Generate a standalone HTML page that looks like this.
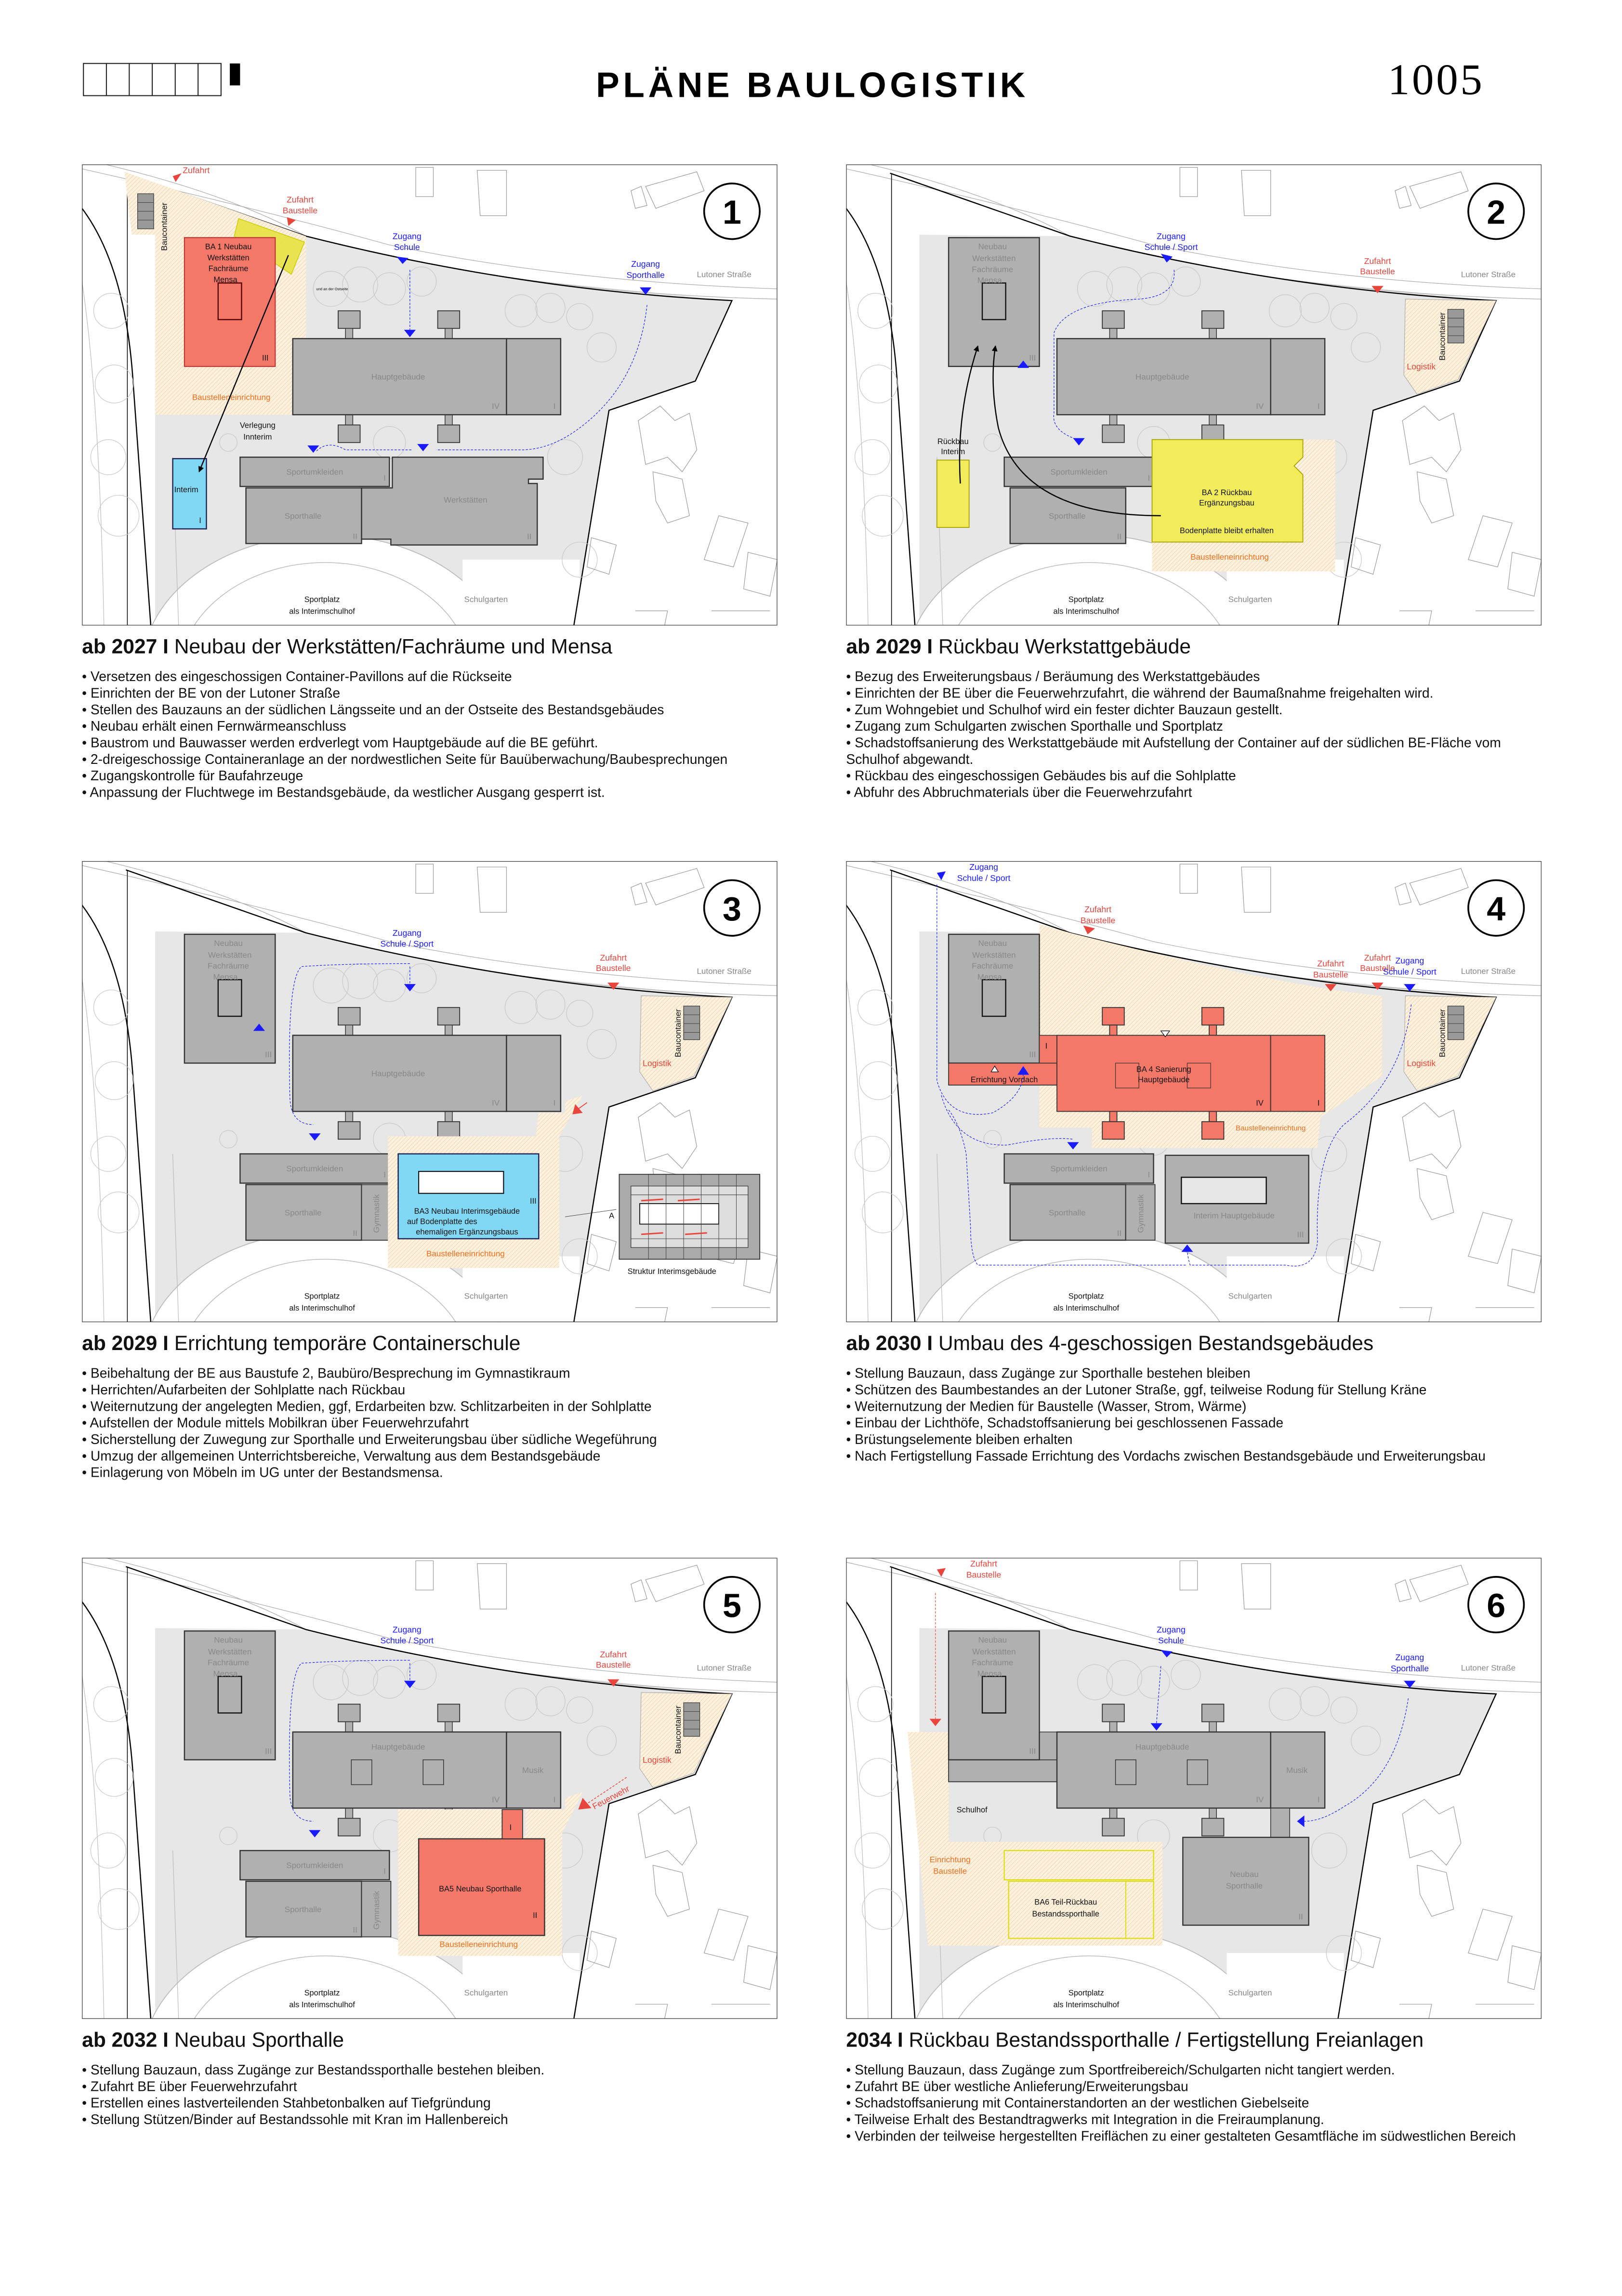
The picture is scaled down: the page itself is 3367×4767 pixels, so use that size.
<!DOCTYPE html>
<html><head><meta charset="utf-8"><style>
html,body{margin:0;padding:0;background:#fff}
svg{display:block}
text{font-family:"Liberation Sans",sans-serif}
.t{font-size:5.6px;fill:#888}
.k{font-size:5.4px;fill:#111}
.b{font-size:5.8px;fill:#1a1aff}
.r{font-size:5.8px;fill:#e8453c}
.o{font-size:5.6px;fill:#f07020}
.bl{font-size:9.3px;fill:#111}
.cap{font-size:14px;fill:#111}
</style></head><body>
<svg width="3367" height="4767" viewBox="0 0 1108 1568" xmlns="http://www.w3.org/2000/svg">
<defs>
<pattern id="h" width="2" height="2" patternUnits="userSpaceOnUse" patternTransform="rotate(45)">
<rect width="2" height="2" fill="#fbf1de"/><line x1="0" y1="0" x2="0" y2="2" stroke="#ebc48a" stroke-width="0.4"/>
</pattern>
<clipPath id="pc"><rect x="0" y="0" width="475" height="315"/></clipPath>
<g id="base">
<rect x="0" y="0" width="475" height="315" fill="#fff"/>
<path d="M50,48 L153,49 Q230,70 306,79 L444,93 L419,148 L360,168 L336,315 L50,315 Z" fill="#e7e7e7"/>
<ellipse cx="166" cy="345" rx="125" ry="92" fill="#fff" stroke="#bbb" stroke-width="0.6"/>
<ellipse cx="166" cy="350" rx="100" ry="78" fill="#fff" stroke="#bbb" stroke-width="0.5"/>
<rect x="260" y="270" width="80" height="45" fill="#fff"/>
<path d="M16,0 Q100,20 153,49 Q300,88 475,92" fill="none" stroke="#aaa" stroke-width="0.4"/>
<path d="M0,3 Q120,30 210,55 Q330,80 475,85" fill="none" stroke="#aaa" stroke-width="0.4"/>
<path d="M30,6 L153,49 Q300,86 444,93 L419,148 L360,168 L336,315" fill="none" stroke="#000" stroke-width="0.8"/>
<path d="M0,30 Q30,70 35,150 L47,315" fill="none" stroke="#000" stroke-width="0.8"/>
<path d="M31,6 L31,315" fill="none" stroke="#000" stroke-width="0.5"/>
<path d="M0,80 Q12,160 15,315 M62,200 L66,315" fill="none" stroke="#bbb" stroke-width="0.4"/>
<g fill="none" stroke="#c8c8c8" stroke-width="0.4">
<circle cx="170" cy="85" r="12"/><circle cx="190" cy="82" r="12"/><circle cx="210" cy="85" r="11"/><circle cx="232" cy="80" r="10"/>
<circle cx="300" cy="100" r="11"/><circle cx="320" cy="98" r="10"/><circle cx="340" cy="104" r="9"/><circle cx="355" cy="125" r="10"/>
<circle cx="20" cy="100" r="12"/><circle cx="22" cy="150" r="13"/><circle cx="18" cy="200" r="12"/><circle cx="25" cy="240" r="14"/>
<circle cx="210" cy="190" r="11"/><circle cx="330" cy="200" r="12"/><circle cx="340" cy="270" r="12"/><circle cx="100" cy="190" r="6"/>
</g>
<g fill="none" stroke="#999" stroke-width="0.4">
<path d="M228,2 L240,2 L240,22 L228,22 Z M270,4 L290,4 L290,35 L272,35 Z M385,15 L420,5 L425,18 L392,30 Z M375,18 L382,15 L386,28 L378,30 Z"/>
<path d="M380,175 L395,165 L405,175 L415,170 L420,195 L410,210 L400,200 L385,205 Z M390,210 L410,215 L415,240 L400,245 L392,230 Z"/>
<path d="M435,240 L455,245 L445,275 L425,270 Z M455,265 L475,270 L470,295 L452,290 Z M348,255 L365,260 L360,280 L345,275 Z"/>
<path d="M378,305 L400,305 L398,315 M430,305 L470,305"/>
</g>
</g>
<g id="hg">
<rect x="175" y="100" width="15" height="12" fill="#b0b0b0" stroke="#333" stroke-width="0.6"/><rect x="180" y="112" width="5" height="7" fill="#b0b0b0" stroke="#333" stroke-width="0.5"/>
<rect x="243" y="100" width="15" height="12" fill="#b0b0b0" stroke="#333" stroke-width="0.6"/><rect x="248" y="112" width="5" height="7" fill="#b0b0b0" stroke="#333" stroke-width="0.5"/>
<rect x="180" y="171" width="5" height="7" fill="#b0b0b0" stroke="#333" stroke-width="0.5"/><rect x="175" y="178" width="15" height="12" fill="#b0b0b0" stroke="#333" stroke-width="0.6"/>
<rect x="248" y="171" width="5" height="7" fill="#b0b0b0" stroke="#333" stroke-width="0.5"/><rect x="243" y="178" width="15" height="12" fill="#b0b0b0" stroke="#333" stroke-width="0.6"/>
<rect x="144" y="119" width="146" height="52" fill="#b0b0b0" stroke="#333" stroke-width="0.8"/>
<rect x="290" y="119" width="37" height="52" fill="#b0b0b0" stroke="#333" stroke-width="0.8"/>
<text x="280" y="167" class="t">IV</text><text x="322" y="167" class="t">I</text>
</g>
<g id="nb">
<rect x="70" y="50" width="62" height="88" fill="#b0b0b0" stroke="#333" stroke-width="0.8"/>
<rect x="93" y="81" width="16" height="25" fill="none" stroke="#111" stroke-width="0.8"/>
<text x="100" y="58" class="t" text-anchor="middle">Neubau</text><text x="101" y="66" class="t" text-anchor="middle">Werkstätten</text>
<text x="100" y="73.5" class="t" text-anchor="middle">Fachräume</text><text x="98" y="81" class="t" text-anchor="middle">Mensa</text>
<text x="125" y="134" class="t">III</text>
</g>
<g id="sp">
<rect x="108" y="200" width="102" height="20" fill="#b0b0b0" stroke="#333" stroke-width="0.8"/>
<rect x="112" y="221" width="79" height="38" fill="#b0b0b0" stroke="#333" stroke-width="0.8"/>
<text x="159" y="212" class="t" text-anchor="middle">Sportumkleiden</text><text x="151" y="242" class="t" text-anchor="middle">Sporthalle</text>
<text x="206" y="216" class="t">I</text><text x="185" y="256" class="t">II</text>
</g>
<g id="gym">
<rect x="191" y="221" width="20" height="38" fill="#b0b0b0" stroke="#333" stroke-width="0.6"/>
<text transform="translate(203,254) rotate(-90)" class="t">Gymnastik</text>
</g>
<g id="com">
<text x="420" y="77" class="t">Lutoner Straße</text>
<text x="164" y="299" class="k" text-anchor="middle">Sportplatz</text><text x="164" y="307" class="k" text-anchor="middle">als Interimschulhof</text>
<text x="276" y="299" class="t" text-anchor="middle">Schulgarten</text>
<rect x="0" y="0" width="475" height="315" fill="none" stroke="#333" stroke-width="0.8"/>
</g>
<g id="ber">
<path d="M382,92 L444,93 L418,147 L390,157 L381,144 Z" fill="url(#h)" stroke="#999" stroke-width="0.3"/>
<rect x="411" y="99" width="11" height="23" fill="#999" stroke="#333" stroke-width="0.4"/>
<line x1="411" y1="105" x2="422" y2="105" stroke="#333" stroke-width="0.3"/><line x1="411" y1="111" x2="422" y2="111" stroke="#333" stroke-width="0.3"/><line x1="411" y1="117" x2="422" y2="117" stroke="#333" stroke-width="0.3"/>
<text transform="translate(409,134) rotate(-90)" style="font-size:5.6px;fill:#111">Baucontainer</text>
<text x="383" y="140" class="r">Logistik</text>
<text x="363" y="75" class="r" text-anchor="middle">Baustelle</text><text x="363" y="68" class="r" text-anchor="middle">Zufahrt</text>
<path d="M359,83 L367,83 L363,88 Z" fill="#e8453c"/>
</g>
<marker id="ar" viewBox="0 0 10 10" refX="9" refY="5" markerWidth="5" markerHeight="5" orient="auto"><path d="M0,0 L10,5 L0,10 Z" fill="#000"/></marker>
</defs>

<!-- header -->
<g stroke="#222" stroke-width="0.7" fill="#fff">
<rect x="57" y="43" width="94" height="22"/>
<line x1="72.7" y1="43" x2="72.7" y2="65"/><line x1="88.3" y1="43" x2="88.3" y2="65"/><line x1="104" y1="43" x2="104" y2="65"/><line x1="119.7" y1="43" x2="119.7" y2="65"/><line x1="135.3" y1="43" x2="135.3" y2="65"/>
</g>
<rect x="157" y="43" width="7" height="15" fill="#000"/>
<text x="555" y="66" text-anchor="middle" style="font-size:24px;font-weight:bold;letter-spacing:2.5px;fill:#000">PLÄNE BAULOGISTIK</text>
<text x="981" y="64" text-anchor="middle" style="font-family:'Liberation Serif',serif;font-size:30px;fill:#000;letter-spacing:1.5px">1005</text>

<!-- PANEL 1 -->
<g transform="translate(56,112)"><g clip-path="url(#pc)">
<use href="#base"/>
<path d="M29,5 L153,49 L153,119 L144,119 L144,171 L50,171 L50,48 L34,48 Z" fill="url(#h)"/>
<use href="#hg"/>
<text x="216" y="147" class="t" text-anchor="middle">Hauptgebäude</text>
<use href="#sp"/>
<path d="M212,200 L315,200 L315,215 L305,215 L305,218 L311,218 L311,260 L211,260 L211,256 L191,256 L191,221 L212,221 Z" fill="#b0b0b0" stroke="#333" stroke-width="0.8"/>
<text x="262" y="231" class="t" text-anchor="middle">Werkstätten</text><text x="304" y="256" class="t">II</text>
<rect x="38" y="20" width="11" height="24" fill="#999" stroke="#333" stroke-width="0.4"/>
<line x1="38" y1="26" x2="49" y2="26" stroke="#333" stroke-width="0.3"/><line x1="38" y1="32" x2="49" y2="32" stroke="#333" stroke-width="0.3"/><line x1="38" y1="38" x2="49" y2="38" stroke="#333" stroke-width="0.3"/>
<text transform="translate(58,59) rotate(-90)" style="font-size:5.6px;fill:#111">Baucontainer</text>
<path d="M107,37 L152,53 L143,75 L104,49 Z" fill="#e6e23a" fill-opacity="0.85" stroke="#cccc00" stroke-width="0.5"/>
<rect x="70" y="50" width="62" height="88" fill="#f47868" stroke="#b33" stroke-width="0.7"/>
<rect x="93" y="81" width="16" height="25" fill="none" stroke="#500" stroke-width="0.8"/>
<text x="100" y="58" class="k" text-anchor="middle">BA 1 Neubau</text><text x="100" y="65.5" class="k" text-anchor="middle">Werkstätten</text>
<text x="100" y="73" class="k" text-anchor="middle">Fachräume</text><text x="98" y="80.5" class="k" text-anchor="middle">Mensa</text>
<text x="123" y="134" class="k">III</text>
<text x="102" y="161" class="o" text-anchor="middle">Baustelleneinrichtung</text>
<rect x="62" y="201" width="23" height="48" fill="#80d8f4" stroke="#225" stroke-width="0.8"/>
<text x="63" y="224" class="k">Interim</text><text x="80" y="245" class="k">I</text>
<path d="M141,62 L80,210" stroke="#000" stroke-width="0.8" marker-end="url(#ar)"/>
<text x="120" y="180" class="k" text-anchor="middle">Verlegung</text><text x="120" y="188" class="k" text-anchor="middle">Innterim</text>
<text x="160" y="86" style="font-size:2.5px;fill:#000">und an der Ostseite</text>
<text x="78" y="6" class="r" text-anchor="middle">Zufahrt</text><path d="M62,8 L68,6 L64,12 Z" fill="#e8453c"/>
<text x="149" y="26" class="r" text-anchor="middle">Zufahrt</text><text x="149" y="33.5" class="r" text-anchor="middle">Baustelle</text><path d="M140,36 L146,38 L141,42 Z" fill="#e8453c"/>
<text x="222" y="51" class="b" text-anchor="middle">Zugang</text><text x="222" y="58.5" class="b" text-anchor="middle">Schule</text><path d="M215,63 L223,64 L219,68 Z" fill="#1a1aff"/>
<text x="385" y="70" class="b" text-anchor="middle">Zugang</text><text x="385" y="77.5" class="b" text-anchor="middle">Sporthalle</text><path d="M381,84 L389,84 L385,89 Z" fill="#1a1aff"/>
<path d="M224,72 L224,113" stroke="#1a1aff" stroke-width="0.4" stroke-dasharray="1.5,1" fill="none"/><path d="M220,113 L228,113 L224,118 Z" fill="#1a1aff"/>
<path d="M386,96 Q380,150 340,180 Q320,195 300,195 L242,195 M225,195 L180,195 Q168,188 160,196" stroke="#1a1aff" stroke-width="0.4" stroke-dasharray="1.5,1" fill="none"/>
<path d="M154,192 L162,192 L158,197 Z" fill="#1a1aff"/><path d="M229,191 L237,191 L233,196 Z" fill="#1a1aff"/>
<use href="#com"/>
</g>
<circle cx="444" cy="32" r="19" fill="#fff" stroke="#000" stroke-width="1.2"/><text x="444" y="40.5" text-anchor="middle" style="font-size:23px;font-weight:bold">1</text>
</g>
<text x="56" y="446" class="cap"><tspan font-weight="bold">ab 2027  I</tspan>  Neubau der Werkstätten/Fachräume und Mensa</text>
<text x="56" y="465" class="bl">• Versetzen des eingeschossigen Container-Pavillons auf die Rückseite</text>
<text x="56" y="476.3" class="bl">• Einrichten der BE von der Lutoner Straße</text>
<text x="56" y="487.6" class="bl">• Stellen des Bauzauns an der südlichen Längsseite und an der Ostseite des Bestandsgebäudes</text>
<text x="56" y="498.9" class="bl">• Neubau erhält einen Fernwärmeanschluss</text>
<text x="56" y="510.2" class="bl">• Baustrom und Bauwasser werden erdverlegt vom Hauptgebäude auf die BE geführt.</text>
<text x="56" y="521.5" class="bl">• 2-dreigeschossige Containeranlage an der nordwestlichen Seite für Bauüberwachung/Baubesprechungen</text>
<text x="56" y="532.8" class="bl">• Zugangskontrolle für Baufahrzeuge</text>
<text x="56" y="544.1" class="bl">• Anpassung der Fluchtwege im Bestandsgebäude, da westlicher Ausgang gesperrt ist.</text>

<!-- PANEL 2 -->
<g transform="translate(578,112)"><g clip-path="url(#pc)">
<use href="#base"/>
<use href="#ber"/>
<use href="#hg"/>
<text x="216" y="147" class="t" text-anchor="middle">Hauptgebäude</text>
<use href="#nb"/>
<use href="#sp"/>
<path d="M209,188 L334,188 L334,278 L209,278 Z" fill="url(#h)"/>
<path d="M209,188 L312,188 L312,200 L306,206 L312,212 L312,258 L209,258 Z" fill="#f2ec5a" stroke="#aaa200" stroke-width="0.6"/>
<text x="260" y="226" class="k" text-anchor="middle">BA 2 Rückbau</text><text x="260" y="233" class="k" text-anchor="middle">Ergänzungsbau</text>
<text x="260" y="252" class="k" text-anchor="middle">Bodenplatte bleibt erhalten</text>
<text x="262" y="270" class="o" text-anchor="middle">Baustelleneinrichtung</text>
<rect x="62" y="202" width="22" height="46" fill="#f2ec5a" stroke="#aaa200" stroke-width="0.6"/>
<text x="73" y="191" class="k" text-anchor="middle">Rückbau</text><text x="73" y="198" class="k" text-anchor="middle">Interim</text>
<path d="M78,218 Q75,170 90,124" stroke="#000" stroke-width="0.8" fill="none" marker-end="url(#ar)"/>
<path d="M215,240 Q120,240 104,180 Q98,150 102,124" stroke="#000" stroke-width="0.8" fill="none" marker-end="url(#ar)"/>
<text x="222" y="51" class="b" text-anchor="middle">Zugang</text><text x="222" y="58.5" class="b" text-anchor="middle">Schule / Sport</text><path d="M215,61 L223,63 L219,67 Z" fill="#1a1aff"/>
<path d="M224,72 Q226,90 200,92 Q150,94 142,115 L142,170 Q140,182 158,188" stroke="#1a1aff" stroke-width="0.4" stroke-dasharray="1.5,1" fill="none"/>
<path d="M117,139 L125,139 L121,134 Z" fill="#1a1aff"/><path d="M155,187 L163,187 L159,192 Z" fill="#1a1aff"/>
<use href="#com"/>
</g>
<circle cx="444" cy="32" r="19" fill="#fff" stroke="#000" stroke-width="1.2"/><text x="444" y="40.5" text-anchor="middle" style="font-size:23px;font-weight:bold">2</text>
</g>
<text x="578" y="446" class="cap"><tspan font-weight="bold">ab 2029  I</tspan>  Rückbau Werkstattgebäude</text>
<text x="578" y="465" class="bl">•  Bezug des Erweiterungsbaus / Beräumung des Werkstattgebäudes</text>
<text x="578" y="476.3" class="bl">• Einrichten der BE über die Feuerwehrzufahrt, die während der Baumaßnahme freigehalten wird.</text>
<text x="578" y="487.6" class="bl">• Zum Wohngebiet und Schulhof wird ein fester dichter Bauzaun gestellt.</text>
<text x="578" y="498.9" class="bl">• Zugang zum Schulgarten zwischen Sporthalle und Sportplatz</text>
<text x="578" y="510.2" class="bl">• Schadstoffsanierung des Werkstattgebäude mit Aufstellung der Container auf der südlichen BE-Fläche vom</text>
<text x="578" y="521.5" class="bl">Schulhof abgewandt.</text>
<text x="578" y="532.8" class="bl">• Rückbau des eingeschossigen Gebäudes bis auf die Sohlplatte</text>
<text x="578" y="544.1" class="bl">• Abfuhr des Abbruchmaterials über die Feuerwehrzufahrt</text>

<!-- PANEL 3 -->
<g transform="translate(56,588)"><g clip-path="url(#pc)">
<use href="#base"/>
<use href="#ber"/>
<use href="#hg"/>
<text x="216" y="147" class="t" text-anchor="middle">Hauptgebäude</text>
<use href="#nb"/>
<use href="#sp"/><use href="#gym"/>
<path d="M209,188 L310,188 L312,172 L330,172 L330,164 L342,160 L326,188 L326,278 L209,278 Z" fill="url(#h)"/>
<rect x="216" y="200" width="96" height="58" fill="#80d8f4" stroke="#225" stroke-width="0.8"/>
<rect x="230" y="212" width="58" height="15" fill="#fff" stroke="#111" stroke-width="0.7"/>
<text x="263" y="241" class="k" text-anchor="middle">BA3 Neubau Interimsgebäude</text><text x="246" y="248" class="k" text-anchor="middle">auf Bodenplatte des</text><text x="263" y="255" class="k" text-anchor="middle">ehemaligen Ergänzungsbaus</text>
<text x="306" y="234" class="k">III</text>
<text x="262" y="270" class="o" text-anchor="middle">Baustelleneinrichtung</text>
<g transform="translate(367,214)">
<rect width="96" height="58" fill="#aaa" stroke="#333" stroke-width="0.6"/>
<rect x="8" y="8" width="80" height="42" fill="#ddd" stroke="#333" stroke-width="0.4"/>
<rect x="14" y="20" width="54" height="14" fill="#fff" stroke="#111" stroke-width="0.6"/>
<g stroke="#333" stroke-width="0.3"><path d="M8,14 L88,14 M8,44 L88,44 M20,0 V58 M32,0 V58 M44,0 V58 M56,0 V58 M68,0 V58 M80,0 V58"/></g>
<path d="M15,18 L30,17 M40,18 L55,17 M15,41 L30,40 M45,41 L60,40" stroke="#e8453c" stroke-width="1"/>
</g>
<text x="403" y="282" class="k" text-anchor="middle">Struktur Interimsgebäude</text>
<path d="M330,243 L365,238" stroke="#333" stroke-width="0.3"/><text x="360" y="244" class="k">A</text>
<text x="222" y="51" class="b" text-anchor="middle">Zugang</text><text x="222" y="58.5" class="b" text-anchor="middle">Schule / Sport</text><path d="M220,84 L228,84 L224,89 Z" fill="#1a1aff"/>
<path d="M224,72 L224,84 M224,70 Q180,70 150,72 Q140,80 142,160 Q142,180 158,180" stroke="#1a1aff" stroke-width="0.4" stroke-dasharray="1.5,1" fill="none"/>
<path d="M117,116 L125,116 L121,111 Z" fill="#1a1aff"/><path d="M155,186 L163,186 L159,191 Z" fill="#1a1aff"/>
<path d="M345,165 L338,170 L341,172" stroke="#e8453c" stroke-width="0.6" fill="none"/><path d="M337,166 L342,172 L335,173 Z" fill="#e8453c"/>
<use href="#com"/>
</g>
<circle cx="444" cy="32" r="19" fill="#fff" stroke="#000" stroke-width="1.2"/><text x="444" y="40.5" text-anchor="middle" style="font-size:23px;font-weight:bold">3</text>
</g>
<text x="56" y="922" class="cap"><tspan font-weight="bold">ab 2029  I</tspan>  Errichtung temporäre Containerschule</text>
<text x="56" y="941" class="bl">• Beibehaltung der BE aus Baustufe 2, Baubüro/Besprechung im Gymnastikraum</text>
<text x="56" y="952.3" class="bl">• Herrichten/Aufarbeiten der Sohlplatte nach Rückbau</text>
<text x="56" y="963.6" class="bl">• Weiternutzung der angelegten Medien, ggf, Erdarbeiten bzw. Schlitzarbeiten in der Sohlplatte</text>
<text x="56" y="974.9" class="bl">• Aufstellen der Module mittels Mobilkran über Feuerwehrzufahrt</text>
<text x="56" y="986.2" class="bl">• Sicherstellung der Zuwegung zur Sporthalle und Erweiterungsbau über südliche Wegeführung</text>
<text x="56" y="997.5" class="bl">• Umzug der allgemeinen Unterrichtsbereiche, Verwaltung aus dem Bestandsgebäude</text>
<text x="56" y="1008.8" class="bl">• Einlagerung von Möbeln im UG unter der Bestandsmensa.</text>

<!-- PANEL 4 -->
<g transform="translate(578,588)"><g clip-path="url(#pc)">
<use href="#base"/>
<use href="#ber"/>
<path d="M132,43 L153,49 Q300,86 366,92 L366,147 L324,175 L322,196 L168,196 L168,182 L132,182 Z" fill="url(#h)"/>
<use href="#nb"/>
<rect x="70" y="138" width="74" height="15" fill="#f47868" stroke="#333" stroke-width="0.6"/>
<rect x="132" y="119" width="12" height="19" fill="#f47868" stroke="#333" stroke-width="0.5"/>
<g fill="#f47868" stroke="#333" stroke-width="0.6">
<rect x="175" y="100" width="15" height="12"/><rect x="180" y="112" width="5" height="7"/><rect x="243" y="100" width="15" height="12"/><rect x="248" y="112" width="5" height="7"/>
<rect x="180" y="171" width="5" height="7"/><rect x="175" y="178" width="15" height="12"/><rect x="248" y="171" width="5" height="7"/><rect x="243" y="178" width="15" height="12"/>
<rect x="144" y="119" width="146" height="52"/><rect x="290" y="119" width="37" height="52"/>
</g>
<rect x="184" y="138" width="16" height="17" fill="none" stroke="#333" stroke-width="0.4"/><rect x="233" y="138" width="16" height="17" fill="none" stroke="#333" stroke-width="0.4"/>
<text x="217" y="144" class="k" text-anchor="middle">BA 4 Sanierung</text><text x="217" y="151" class="k" text-anchor="middle">Hauptgebäude</text>
<text x="280" y="167" class="k">IV</text><text x="322" y="167" class="k">I</text><text x="136" y="128" class="k">I</text>
<text x="108" y="151" class="k" text-anchor="middle">Errichtung Vordach</text>
<path d="M99,144 L104,144 L101.5,140 Z" fill="#fff" stroke="#000" stroke-width="0.4"/>
<text x="290" y="184" class="o" text-anchor="middle" style="font-size:5px">Baustelleneinrichtung</text>
<path d="M215,116 L221,116 L218,120 Z" fill="#fff" stroke="#000" stroke-width="0.4"/>
<use href="#sp"/><use href="#gym"/>
<rect x="218" y="201" width="98" height="60" fill="#b0b0b0" stroke="#333" stroke-width="0.8"/>
<rect x="229" y="216" width="58" height="18" fill="#e7e7e7" stroke="#111" stroke-width="0.8"/>
<text x="265" y="244" class="t" text-anchor="middle">Interim Hauptgebäude</text><text x="308" y="257" class="t">III</text>
<text x="172" y="35" class="r" text-anchor="middle">Zufahrt</text><text x="172" y="42.5" class="r" text-anchor="middle">Baustelle</text><path d="M162,44 L170,46 L165,50 Z" fill="#e8453c"/>
<text x="331" y="72" class="r" text-anchor="middle">Zufahrt</text><text x="331" y="79.5" class="r" text-anchor="middle">Baustelle</text><path d="M327,84 L335,84 L331,89 Z" fill="#e8453c"/>
<text x="385" y="70" class="b" text-anchor="middle">Zugang</text><text x="385" y="77.5" class="b" text-anchor="middle">Schule / Sport</text><path d="M381,84 L389,84 L385,89 Z" fill="#1a1aff"/>
<text x="94" y="6" class="b" text-anchor="middle">Zugang</text><text x="94" y="13.5" class="b" text-anchor="middle">Schule / Sport</text><path d="M62,8 L68,7 L65,13 Z" fill="#1a1aff"/>
<path d="M62,16 L62,150 Q70,178 100,172 Q122,160 121,143 M65,160 Q75,195 110,194 Q140,188 155,190 M386,98 Q380,150 340,180 Q320,200 322,260 Q320,280 300,276 L235,276 Q233,270 233,264 M232,276 L90,276 Q85,270 85,250 L82,200 Q78,180 70,170" stroke="#1a1aff" stroke-width="0.4" stroke-dasharray="1.5,1" fill="none"/>
<path d="M117,146 L125,146 L121,140 Z" fill="#1a1aff"/><path d="M151,192 L159,192 L155,197 Z" fill="#1a1aff"/><path d="M229,267 L237,267 L233,262 Z" fill="#1a1aff"/>
<use href="#com"/>
</g>
<circle cx="444" cy="32" r="19" fill="#fff" stroke="#000" stroke-width="1.2"/><text x="444" y="40.5" text-anchor="middle" style="font-size:23px;font-weight:bold">4</text>
</g>
<text x="578" y="922" class="cap"><tspan font-weight="bold">ab 2030  I</tspan>  Umbau des 4-geschossigen Bestandsgebäudes</text>
<text x="578" y="941" class="bl">• Stellung Bauzaun, dass Zugänge zur Sporthalle bestehen bleiben</text>
<text x="578" y="952.3" class="bl">• Schützen des Baumbestandes an der Lutoner Straße, ggf, teilweise Rodung für Stellung Kräne</text>
<text x="578" y="963.6" class="bl">• Weiternutzung der Medien für Baustelle (Wasser, Strom, Wärme)</text>
<text x="578" y="974.9" class="bl">• Einbau der Lichthöfe, Schadstoffsanierung bei geschlossenen Fassade</text>
<text x="578" y="986.2" class="bl">• Brüstungselemente bleiben erhalten</text>
<text x="578" y="997.5" class="bl">• Nach Fertigstellung Fassade Errichtung des Vordachs zwischen Bestandsgebäude und Erweiterungsbau</text>

<!-- PANEL 5 -->
<g transform="translate(56,1064)"><g clip-path="url(#pc)">
<use href="#base"/>
<use href="#ber"/>
<use href="#hg"/>
<rect x="184" y="138" width="14" height="17" fill="none" stroke="#333" stroke-width="0.5"/><rect x="233" y="138" width="14" height="17" fill="none" stroke="#333" stroke-width="0.5"/>
<text x="216" y="131" class="t" text-anchor="middle">Hauptgebäude</text><text x="308" y="147" class="t" text-anchor="middle">Musik</text>
<use href="#nb"/>
<use href="#sp"/><use href="#gym"/>
<path d="M216,172 L290,172 L290,190 L303,190 L303,172 L330,172 L330,164 L342,160 L328,188 L328,272 L216,272 Z" fill="url(#h)"/>
<rect x="230" y="192" width="86" height="66" fill="#f47868" stroke="#333" stroke-width="0.8"/>
<rect x="287" y="172" width="14" height="20" fill="#f47868" stroke="#333" stroke-width="0.6"/>
<text x="272" y="228" class="k" text-anchor="middle">BA5 Neubau Sporthalle</text><text x="308" y="246" class="k">II</text><text x="292" y="186" class="k">I</text>
<text x="271" y="266" class="o" text-anchor="middle">Baustelleneinrichtung</text>
<text transform="translate(350,172) rotate(-28)" class="r">Feuerwehr</text>
<path d="M372,150 L345,168" stroke="#e8453c" stroke-width="0.5" stroke-dasharray="1.5,1"/><path d="M342,164 L348,171 L339,172 Z" fill="#e8453c"/>
<text x="222" y="51" class="b" text-anchor="middle">Zugang</text><text x="222" y="58.5" class="b" text-anchor="middle">Schule / Sport</text><path d="M220,84 L228,84 L224,89 Z" fill="#1a1aff"/>
<path d="M224,72 L224,84 M224,70 Q180,70 150,72 Q140,80 142,160 Q142,180 158,180" stroke="#1a1aff" stroke-width="0.4" stroke-dasharray="1.5,1" fill="none"/>
<path d="M155,186 L163,186 L159,191 Z" fill="#1a1aff"/>
<use href="#com"/>
</g>
<circle cx="444" cy="32" r="19" fill="#fff" stroke="#000" stroke-width="1.2"/><text x="444" y="40.5" text-anchor="middle" style="font-size:23px;font-weight:bold">5</text>
</g>
<text x="56" y="1398" class="cap"><tspan font-weight="bold">ab 2032 I</tspan>  Neubau Sporthalle</text>
<text x="56" y="1417" class="bl">• Stellung Bauzaun, dass Zugänge zur Bestandssporthalle bestehen bleiben.</text>
<text x="56" y="1428.3" class="bl">• Zufahrt BE über Feuerwehrzufahrt</text>
<text x="56" y="1439.6" class="bl">• Erstellen eines lastverteilenden Stahbetonbalken  auf Tiefgründung</text>
<text x="56" y="1450.9" class="bl">• Stellung Stützen/Binder auf Bestandssohle mit Kran im Hallenbereich</text>

<!-- PANEL 6 -->
<g transform="translate(578,1064)"><g clip-path="url(#pc)">
<use href="#base"/>
<path d="M42,119 L70,119 L70,194 L216,194 L216,265 L56,265 Z" fill="url(#h)"/>
<rect x="70" y="138" width="74" height="15" fill="#b0b0b0" stroke="#333" stroke-width="0.6"/>
<rect x="132" y="119" width="12" height="19" fill="#b0b0b0" stroke="#333" stroke-width="0.5"/>
<use href="#hg"/>
<rect x="184" y="138" width="14" height="17" fill="none" stroke="#333" stroke-width="0.5"/><rect x="233" y="138" width="14" height="17" fill="none" stroke="#333" stroke-width="0.5"/>
<text x="216" y="131" class="t" text-anchor="middle">Hauptgebäude</text><text x="308" y="147" class="t" text-anchor="middle">Musik</text>
<use href="#nb"/>
<rect x="290" y="171" width="13" height="20" fill="#b0b0b0" stroke="#333" stroke-width="0.5"/>
<rect x="230" y="191" width="86" height="60" fill="#b0b0b0" stroke="#333" stroke-width="0.8"/>
<text x="272" y="218" class="t" text-anchor="middle">Neubau</text><text x="272" y="226" class="t" text-anchor="middle">Sporthalle</text><text x="309" y="247" class="t">II</text>
<rect x="108" y="200" width="102" height="20" fill="none" stroke="#dddd00" stroke-width="0.7"/>
<rect x="111" y="221" width="99" height="39" fill="none" stroke="#dddd00" stroke-width="0.7"/>
<line x1="191" y1="221" x2="191" y2="260" stroke="#dddd00" stroke-width="0.6"/>
<text x="150" y="237" class="k" text-anchor="middle">BA6 Teil-Rückbau</text><text x="150" y="245" class="k" text-anchor="middle">Bestandssporthalle</text>
<text x="86" y="174" class="k" text-anchor="middle">Schulhof</text>
<text x="71" y="208" class="o" text-anchor="middle">Einrichtung</text><text x="71" y="216" class="o" text-anchor="middle">Baustelle</text>
<text x="94" y="6" class="r" text-anchor="middle">Zufahrt</text><text x="94" y="13.5" class="r" text-anchor="middle">Baustelle</text><path d="M62,8 L68,7 L65,13 Z" fill="#e8453c"/>
<path d="M61,24 L61,110" stroke="#e8453c" stroke-width="0.4" stroke-dasharray="1.5,1"/><path d="M57,110 L65,110 L61,115 Z" fill="#e8453c"/>
<text x="222" y="51" class="b" text-anchor="middle">Zugang</text><text x="222" y="58.5" class="b" text-anchor="middle">Schule</text><path d="M215,63 L223,64 L219,68 Z" fill="#1a1aff"/>
<path d="M215,74 L212,113" stroke="#1a1aff" stroke-width="0.4" stroke-dasharray="1.5,1"/><path d="M208,113 L216,113 L212,118 Z" fill="#1a1aff"/>
<text x="385" y="70" class="b" text-anchor="middle">Zugang</text><text x="385" y="77.5" class="b" text-anchor="middle">Sporthalle</text><path d="M381,84 L389,84 L385,89 Z" fill="#1a1aff"/>
<path d="M384,96 Q376,150 340,170 Q325,180 313,180" stroke="#1a1aff" stroke-width="0.4" stroke-dasharray="1.5,1" fill="none"/><path d="M313,176 L313,184 L308,180 Z" fill="#1a1aff"/>
<use href="#com"/>
</g>
<circle cx="444" cy="32" r="19" fill="#fff" stroke="#000" stroke-width="1.2"/><text x="444" y="40.5" text-anchor="middle" style="font-size:23px;font-weight:bold">6</text>
</g>
<text x="578" y="1398" class="cap"><tspan font-weight="bold">2034 I</tspan>  Rückbau Bestandssporthalle / Fertigstellung Freianlagen</text>
<text x="578" y="1417" class="bl">• Stellung Bauzaun, dass Zugänge zum Sportfreibereich/Schulgarten nicht tangiert werden.</text>
<text x="578" y="1428.3" class="bl">• Zufahrt BE über westliche Anlieferung/Erweiterungsbau</text>
<text x="578" y="1439.6" class="bl">• Schadstoffsanierung mit Containerstandorten an der westlichen Giebelseite</text>
<text x="578" y="1450.9" class="bl">• Teilweise Erhalt des Bestandtragwerks mit Integration in die Freiraumplanung.</text>
<text x="578" y="1462.2" class="bl">• Verbinden der teilweise hergestellten Freiflächen zu einer gestalteten Gesamtfläche im südwestlichen Bereich</text>
</svg>
</body></html>
